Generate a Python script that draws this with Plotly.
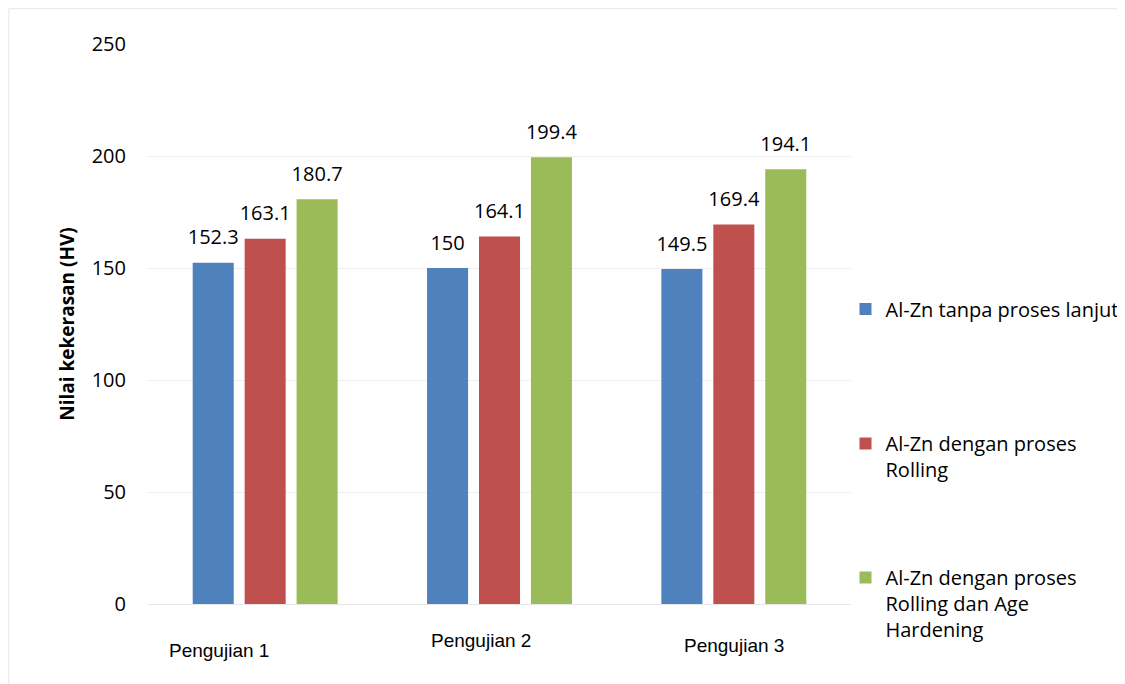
import plotly.graph_objects as go

categories = ["Pengujian 1", "Pengujian 2", "Pengujian 3"]
series_names = [
    "Al-Zn tanpa proses lanjut",
    "Al-Zn dengan proses<br>Rolling",
    "Al-Zn dengan proses<br>Rolling dan Age<br>Hardening",
]
tanpa_proses = [152.3, 150, 149.5]
rolling = [163.1, 164.1, 169.4]
rolling_age = [180.7, 199.4, 194.1]
y_ticks = [0, 50, 100, 150, 200, 250]
y_title = "Nilai kekerasan (HV)"

colors = ["#4F81BD", "#C0504D", "#9BBB59"]
series_values = [tanpa_proses, rolling, rolling_age]
legend_ids = ["legend", "legend2", "legend3"]

FONT = "Open Sans, Noto Sans, sans-serif"

# the page body has an 8px margin; compensate so the screenshot matches
OFF = 8
W, H = 1125 - OFF, 684 - OFF

fig = go.Figure()
for i, (name, vals) in enumerate(zip(series_names, series_values)):
    fig.add_trace(go.Bar(
        x=categories, y=vals, name=name,
        marker=dict(color=colors[i], line=dict(width=0)),
        offsetgroup=str(i), legend=legend_ids[i],
        hoverinfo="x+y",
    ))
for i, vals in enumerate(series_values):
    fig.add_trace(go.Scatter(
        x=categories, y=vals, mode="markers+text",
        text=[f"{v:g}" for v in vals], textposition="top center",
        textfont=dict(family=FONT, size=20, color="#000000"),
        marker=dict(size=20, opacity=0),
        offsetgroup=str(i), showlegend=False, hoverinfo="skip",
        cliponaxis=False,
    ))

plot_l, plot_r, plot_t, plot_b = 148 - OFF, 851.5 - OFF, 44 - OFF, 604 - OFF
pw, ph = plot_r - plot_l, plot_b - plot_t

def px_x(x):
    return (x - OFF - plot_l) / pw

def px_y(y):
    return (plot_b - (y - OFF)) / ph

# category labels (hand-placed text boxes in the source)
label_pos = [(-46, 650), (-19, 640), (0, 645)]
annotations = []
for cat, (dx, yy) in zip(categories, label_pos):
    annotations.append(dict(
        x=cat, xref="x", y=px_y(yy), yref="paper", text=cat, showarrow=False,
        xshift=dx,
        font=dict(family="Liberation Sans Narrow, Arial Narrow, sans-serif", size=19, color="#000000"),
        xanchor="center", yanchor="middle",
    ))

legend_common = dict(
    font=dict(family=FONT, size=20, color="#000000"),
    bgcolor="rgba(0,0,0,0)", borderwidth=0, xanchor="left",
    valign="top", itemclick=False, itemdoubleclick=False,
)

fig.update_layout(
    width=W, height=H,
    margin=dict(l=plot_l, r=W - plot_r, t=plot_t, b=H - plot_b, autoexpand=False),
    paper_bgcolor="#ffffff", plot_bgcolor="#ffffff",
    barmode="group", bargap=0.335, bargroupgap=0.21,
    scattermode="group", scattergap=0.335,
    font=dict(family=FONT, size=19, color="#000000"),
    xaxis=dict(showticklabels=False, showgrid=False, zeroline=False,
               showline=False, ticks="", fixedrange=True),
    yaxis=dict(range=[0, 250], tickvals=y_ticks, showgrid=True,
               gridcolor="#eeeeee", gridwidth=1, zeroline=True,
               zerolinecolor="#e6e6e6", zerolinewidth=1, showline=False,
               ticks="", ticklabelstandoff=21,
               tickfont=dict(family=FONT, size=20, color="#000000"),
               title=dict(text=y_title, standoff=12,
                          font=dict(family=FONT, size=19, color="#000000", weight="bold")),
               automargin=False, fixedrange=True),
    legend=dict(**legend_common, x=px_x(846), y=px_y(309), yanchor="middle"),
    legend2=dict(**legend_common, x=px_x(846), y=px_y(424), yanchor="top"),
    legend3=dict(**legend_common, x=px_x(846), y=px_y(558), yanchor="top"),
    annotations=annotations,
    shapes=[dict(type="rect", xref="paper", yref="paper",
                 x0=px_x(8.7), x1=px_x(1140), y0=px_y(700), y1=px_y(8.7),
                 line=dict(color="#e6e6e6", width=1), fillcolor="rgba(0,0,0,0)",
                 layer="below")],
)

fig.write_html("out.html")
